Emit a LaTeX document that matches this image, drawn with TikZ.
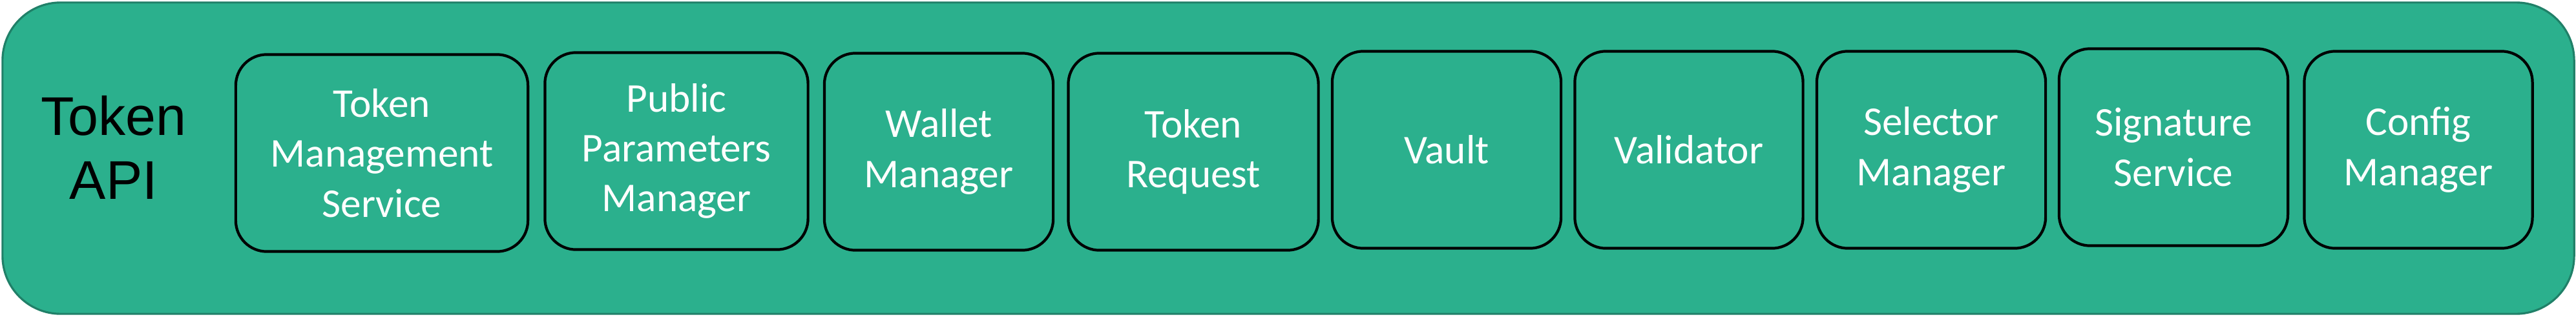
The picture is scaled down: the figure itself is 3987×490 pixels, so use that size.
\documentclass[tikz,border=0pt]{standalone}
\usepackage{fontspec}
\setmainfont{Carlito}
\newfontfamily\apifont{Liberation Sans}
\definecolor{apigreen}{RGB}{43,176,141}
\definecolor{apiedge}{RGB}{32,128,104}
\begin{document}
\begin{tikzpicture}[x=0.01cm, y=0.01cm,
    module/.style={draw=black, line width=1.2pt, rounded corners=0.48cm, fill=apigreen,
        text=white, align=center, minimum height=3.05cm,
        font=\fontsize{18}{22}\selectfont}]
    \useasboundingbox (0,0) rectangle (3987,490);
    \node (api) [draw=apiedge, line width=0.9pt, fill=apigreen, rounded corners=0.9cm,
        minimum width=39.78cm, minimum height=4.82cm] at (1994,245) {};
    \node (title) [align=center, font=\apifont\fontsize{24}{28.2}\selectfont] at (176,262) {Token\\API};

    \node (tms) [module, minimum width=4.52cm] at (591,253) {Token\\Management\\Service};
    \node (ppm) [module, minimum width=4.07cm] at (1047,256) {Public\\Parameters\\Manager};
    \node (wm) [module, minimum width=3.54cm] at (1453,255) {Wallet\\Manager};
    \node (tr) [module, minimum width=3.87cm] at (1847,255) {Token\\Request};
    \node (vault) [module, minimum width=3.54cm] at (2239,258) {Vault};
    \node (val) [module, minimum width=3.53cm] at (2614,258) {Validator};
    \node (sm) [module, minimum width=3.54cm] at (2989,258) {Selector\\Manager};
    \node (ss) [module, minimum width=3.54cm] at (3364,262) {Signature\\Service};
    \node (cm) [module, minimum width=3.53cm] at (3743,258) {Config\\Manager};
\end{tikzpicture}
\end{document}
